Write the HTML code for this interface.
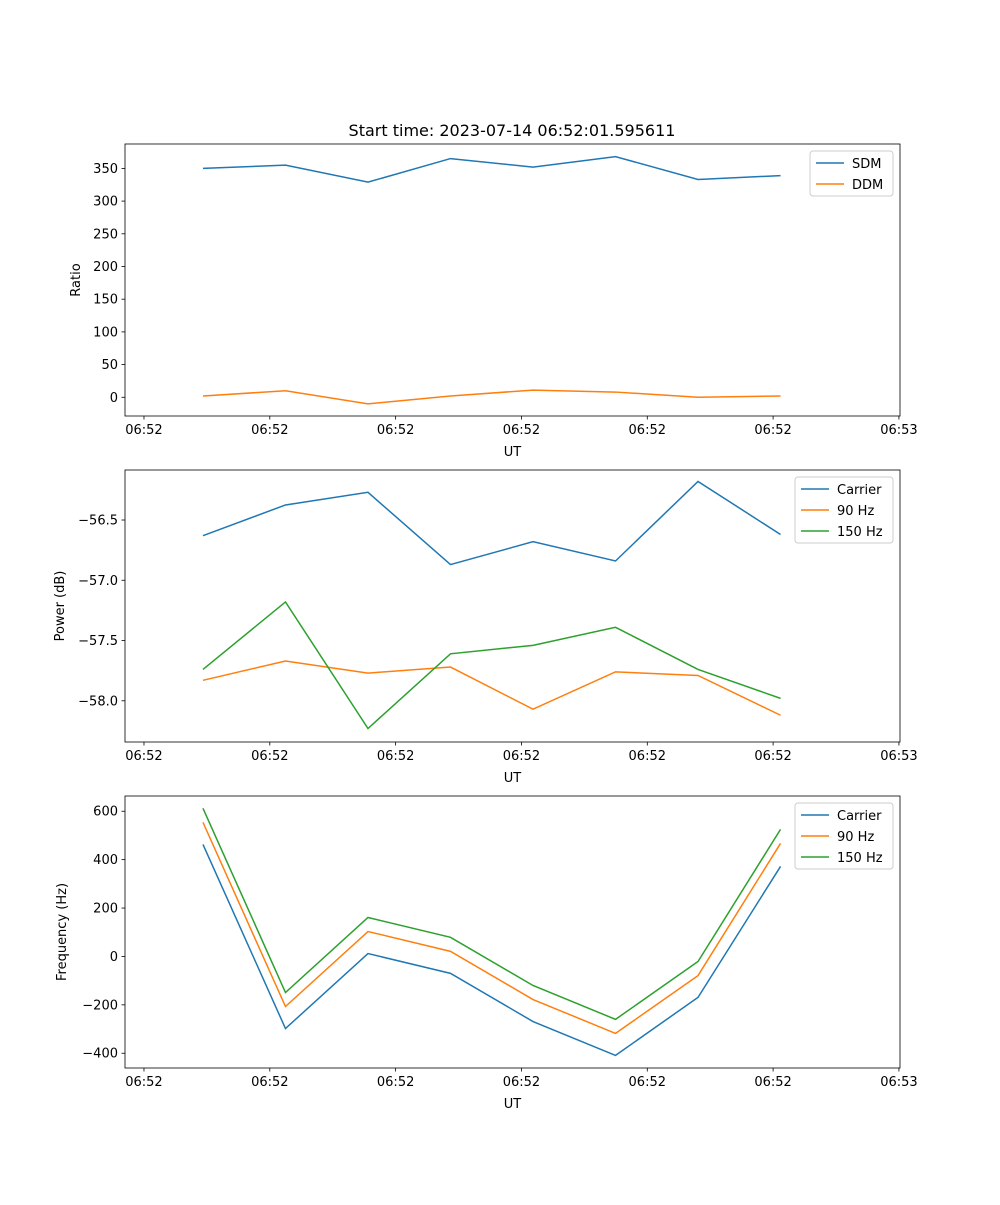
<!DOCTYPE html>
<html><head><meta charset="utf-8"><style>
body{margin:0;background:#fff}
svg text{font-family:"DejaVu Sans","Liberation Sans",sans-serif;fill:#000}
</style></head><body>
<svg id="fig" width="1000" height="1200" xmlns="http://www.w3.org/2000/svg">
<rect width="1000" height="1200" fill="#fff"/>
<text x="512" y="136" font-size="16" text-anchor="middle">Start time: 2023-07-14 06:52:01.595611</text>
</svg>
<script>
const sampleIndex=[0,1,2,3,4,5,6,7];
const xTickValues=[-0.715,0.81,2.335,3.86,5.385,6.91,8.435];
const xTickLabels=["06:52","06:52","06:52","06:52","06:52","06:52","06:53"];
const sdm=[350,355,329,365,352,368,333,339];
const ddm=[2,10,-10,2,11,8,0,2];
const ratioTicks=[0,50,100,150,200,250,300,350];
const pCarrier=[-56.63,-56.375,-56.27,-56.87,-56.68,-56.84,-56.18,-56.62];
const p90=[-57.83,-57.67,-57.77,-57.72,-58.07,-57.76,-57.79,-58.12];
const p150=[-57.74,-57.18,-58.23,-57.61,-57.54,-57.39,-57.74,-57.98];
const powerTicks=[-58.0,-57.5,-57.0,-56.5];
const fCarrier=[463,-298,12,-70,-269,-409,-169,372];
const f90=[554,-207,103,21,-178,-318,-79,467];
const f150=[612,-149,161,79,-120,-260,-21,525];
const freqTicks=[-400,-200,0,200,400,600];

const NS="http://www.w3.org/2000/svg";
const svg=document.getElementById('fig');
const C={b:"#1f77b4",o:"#ff7f0e",g:"#2ca02c"};
function mk(tag,attrs,parent){const e=document.createElementNS(NS,tag);for(const k in attrs)e.setAttribute(k,attrs[k]);(parent||svg).appendChild(e);return e;}
const L=125,R=900,xmin=-0.945,xmax=8.448;
function xs(v){return L+(v-xmin)/(xmax-xmin)*(R-L);}
function panel(top,bottom,ymin,ymax,ticks,fmt,ylabel,series,legend,name){
  const g=mk('g',{});
  
  
  const ys=v=>bottom-(v-ymin)/(ymax-ymin)*(bottom-top);
  series.forEach(s=>{
    const p=mk('polyline',{points:s.vals.map((v,i)=>xs(sampleIndex[i])+","+ys(v)).join(" "),fill:"none",stroke:s.c,"stroke-width":1.5},g);
    
    
  });
  mk('rect',{x:L,y:top,width:R-L,height:bottom-top,fill:"none",stroke:"#000","stroke-width":0.8},g);
  ticks.forEach(t=>{const y=ys(t);mk('line',{x1:L-3.5,x2:L,y1:y,y2:y,stroke:"#000","stroke-width":0.8},g);
    const tx=mk('text',{x:L-7,y:y+4.5,"font-size":13,"text-anchor":"end"},g);tx.textContent=fmt(t);
    
    });
  xTickValues.forEach((t,i)=>{const x=xs(t);mk('line',{x1:x,x2:x,y1:bottom,y2:bottom+3.5,stroke:"#000","stroke-width":0.8},g);
    const tx=mk('text',{x:x,y:bottom+18,"font-size":13,"text-anchor":"middle"},g);tx.textContent=xTickLabels[i];
    
    });
  const xl=mk('text',{x:(L+R)/2,y:bottom+40,"font-size":13,"text-anchor":"middle"},g);xl.textContent="UT";
  
  
  const cy=(top+bottom)/2;
  const yl=mk('text',{x:0,y:0,"font-size":13,"text-anchor":"middle",transform:`translate(${legend.yl},${cy}) rotate(-90)`},g);yl.textContent=ylabel;
  
  
  const lg=mk('g',{},g);
  
  
  mk('rect',{x:legend.x,y:top+7,width:R-7-legend.x,height:series.length*21+3,rx:3,fill:"#fff","fill-opacity":0.8,stroke:"#ccc"},lg);
  series.forEach((s,i)=>{const y=top+19+i*21;
    mk('line',{x1:legend.x+6,x2:legend.x+34,y1:y,y2:y,stroke:s.c,"stroke-width":1.5},lg);
    const t=mk('text',{x:legend.x+42,y:y+5,"font-size":13},lg);t.textContent=s.l;
    
    });
}
panel(144,416,-28.6,387.3,ratioTicks,v=>String(v),"Ratio",
 [{vals:sdm,c:C.b,l:"SDM",n:"sdm-line"},{vals:ddm,c:C.o,l:"DDM",n:"ddm-line"}],{x:810,yl:80},"ratio-panel");
panel(470,742,-58.342,-56.085,powerTicks,v=>"\u2212"+Math.abs(v).toFixed(1),"Power (dB)",
 [{vals:pCarrier,c:C.b,l:"Carrier",n:"carrier-power-line"},{vals:p90,c:C.o,l:"90 Hz",n:"90hz-power-line"},{vals:p150,c:C.g,l:"150 Hz",n:"150hz-power-line"}],{x:795,yl:64},"power-panel");
panel(796,1068,-461,663,freqTicks,v=>(v<0?"\u2212":"")+Math.abs(v),"Frequency (Hz)",
 [{vals:fCarrier,c:C.b,l:"Carrier",n:"carrier-frequency-line"},{vals:f90,c:C.o,l:"90 Hz",n:"90hz-frequency-line"},{vals:f150,c:C.g,l:"150 Hz",n:"150hz-frequency-line"}],{x:795,yl:66},"frequency-panel");
</script>
</body></html>
